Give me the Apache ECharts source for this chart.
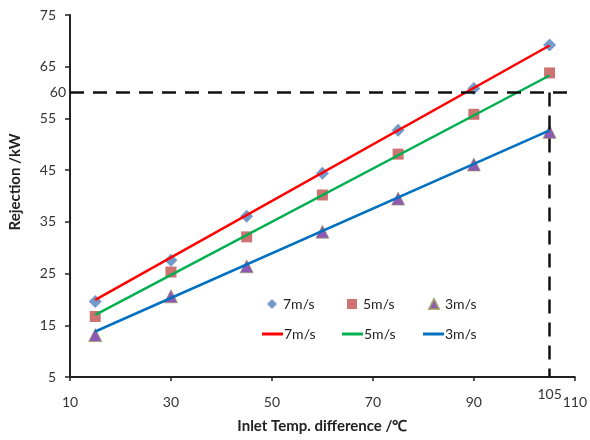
<!DOCTYPE html>
<html>
<head>
<meta charset="utf-8">
<script src="https://cdn.jsdelivr.net/npm/echarts@6/dist/echarts.min.js"></script>
<style>html,body{margin:0;padding:0;background:#fff}#c{width:590px;height:440px}</style>
</head>
<body>
<div id="c"></div>
<script>
// Data
var xValues = [15, 30, 45, 60, 75, 90, 105];
var v7 = [19.6, 27.6, 36.1, 44.4, 52.7, 60.8, 69.2];
var v5 = [16.7, 25.3, 32.1, 40.2, 48.1, 55.8, 63.8];
var v3 = [13.1, 20.6, 26.4, 33.1, 39.5, 46.1, 52.4];
var trend7 = [[15, 19.9], [105, 69.1]];
var trend5 = [[15, 17.0], [105, 63.3]];
var trend3 = [[15, 13.8], [105, 52.7]];
var seriesNames = ['7m/s', '5m/s', '3m/s'];
var yTicks = [5, 15, 25, 35, 45, 55, 65, 75];
var xTicks = [10, 30, 50, 70, 90, 110];
var refY = 60, refX = 105, refXEnd = 108.6;

var font = 'Lato, "Open Sans", sans-serif';
function pts(vals){ return xValues.map(function(x,i){ return [x, vals[i]]; }); }

var scatterStyles = [
  {symbol:'diamond', size:13, color:'#4F81BD'},
  {symbol:'rect', size:11, color:'#C0504D'},
  {symbol:'triangle', size:13, color:'#7030A0'}
];
var lineColors = ['#FF0000', '#00B050', '#0070C0'];
var allVals = [v7, v5, v3];
var trends = [trend7, trend5, trend3];

var series = [];
seriesNames.forEach(function(n, i){
  series.push({
    type:'scatter', name:n, data:pts(allVals[i]),
    symbol:scatterStyles[i].symbol, symbolSize:scatterStyles[i].size,
    itemStyle:{color:scatterStyles[i].color, borderColor: i===2 ? '#9B9B5A' : scatterStyles[i].color, borderWidth: i===2?0.8:0},
    z:2
  });
});
seriesNames.forEach(function(n, i){
  series.push({
    type:'line', name:n + ' ', data:trends[i], showSymbol:false, symbol:'none',
    lineStyle:{color:lineColors[i], width:2.5}, itemStyle:{color:lineColors[i]},
    z:3
  });
});
// reference dashed lines
series.push({
  type:'line', name:'ref', data:[], z:4,
  markLine:{
    silent:true, symbol:'none',
    lineStyle:{color:'#111', type:[14,9], width:2.5},
    data:[
      [{coord:[xTicks[0], refY], label:{show:true, position:'start', formatter:String(refY), color:'#333', fontSize:14, fontFamily:font, distance:4}},
       {coord:[refXEnd, refY]}],
      [{coord:[refX, refY]},
       {coord:[refX, yTicks[0]], label:{show:true, position:'end', formatter:String(refX), color:'#333', fontSize:14, fontFamily:font, distance:10}}]
    ]
  }
});

var legendPos = [
  [267, 297, 10, 10], [347, 297, 10, 10], [428, 297, 10, 10],
  [262, 327, 21, 3], [342, 327, 21, 3], [423, 327, 21, 3]
];
var legendNames = seriesNames.concat(seriesNames.map(function(n){return n + ' ';}));
var legends = legendNames.map(function(n, i){
  var o = {
    data:[n], left:legendPos[i][0], top:legendPos[i][1],
    itemWidth:legendPos[i][2], itemHeight:legendPos[i][3], itemGap:0,
    selectedMode:false, padding:0,
    formatter:function(name){ return name.trim(); },
    textStyle:{color:'#222', fontSize:14, fontFamily:font, padding:[0,0,0, i<3?1:-4]}
  };
  if (i >= 3) o.icon = 'rect';
  return o;
});

var chart = echarts.init(document.getElementById('c'), null, {renderer:'canvas'});
chart.setOption({
  animation:false,
  backgroundColor:'#fff',
  grid:{left:70, right:13, top:15, bottom:63},
  legend:legends,
  xAxis:{
    type:'value', min:xTicks[0], max:xTicks[xTicks.length-1], interval:20,
    name:'Inlet Temp. difference /℃', nameLocation:'middle', nameGap:42,
    nameTextStyle:{fontWeight:'bold', fontSize:15, color:'#222', fontFamily:font},
    axisLine:{lineStyle:{color:'#222', width:2}},
    axisTick:{show:true, length:4, lineStyle:{color:'#222', width:1.5}},
    axisLabel:{margin:18, fontSize:14, color:'#333', fontFamily:font},
    splitLine:{show:false}
  },
  yAxis:{
    type:'value', min:yTicks[0], max:yTicks[yTicks.length-1], interval:10,
    name:'Rejection /kW', nameLocation:'middle', nameGap:47,
    nameTextStyle:{fontWeight:'bold', fontSize:15, color:'#222', fontFamily:font, padding:[0,0,0,28]},
    axisLine:{show:true, lineStyle:{color:'#222', width:2}},
    axisTick:{show:true, length:5, lineStyle:{color:'#222', width:1.5}},
    axisLabel:{margin:14, fontSize:14, color:'#333', fontFamily:font},
    splitLine:{show:false}
  },
  series:series
});
</script>
</body>
</html>
